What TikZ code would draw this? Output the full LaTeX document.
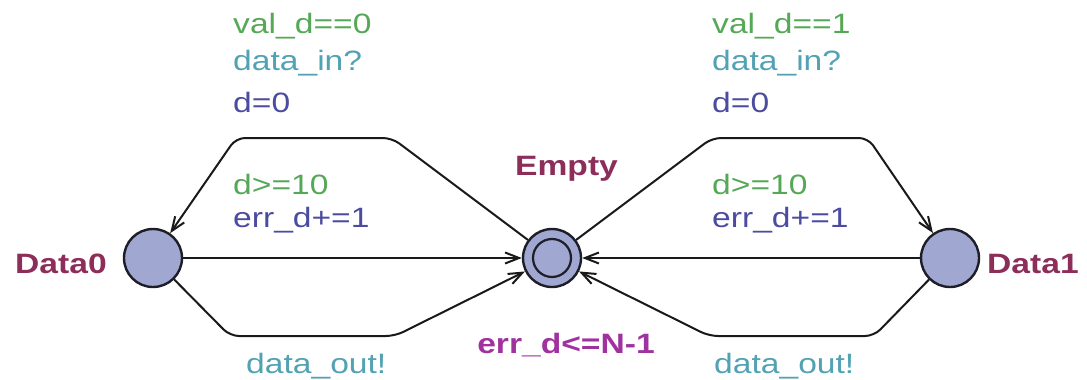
\documentclass[tikz,border=0pt]{standalone}
\usepackage{fontspec}
\setmainfont{Liberation Sans}[FakeStretch=1.2]
\usetikzlibrary{arrows.meta}
\definecolor{guardgreen}{HTML}{55A855}
\definecolor{syncteal}{HTML}{52A2B4}
\definecolor{updblue}{HTML}{4B4BA0}
\definecolor{locred}{HTML}{8C2D5A}
\definecolor{invpurple}{HTML}{A032A0}
\definecolor{locfill}{HTML}{A0A8D2}
\definecolor{locline}{HTML}{1E1E28}

\begin{document}
\begin{tikzpicture}[
    x=1pt, y=-1pt,
    >={Straight Barb[length=14pt,width=11pt]},
    loc/.style={circle, draw=locline, fill=locfill, line width=2.4pt,
                minimum size=58pt, inner sep=0pt},
    initloc/.style={loc, path picture={\draw[locline, line width=2.2pt]
                (path picture bounding box.center) circle (19pt);}},
    namelbl/.style={font=\bfseries\fontsize{28}{33}\selectfont, color=locred,
                    inner sep=0pt, anchor=base west},
    invlbl/.style={font=\bfseries\fontsize{28}{33}\selectfont, color=invpurple,
                   inner sep=0pt, anchor=base},
    lbl/.style={font=\fontsize{28}{33}\selectfont, inner sep=0pt, anchor=base west},
    guard/.style={lbl, color=guardgreen},
    sync/.style={lbl, color=syncteal},
    upd/.style={lbl, color=updblue},
    trans/.style={->, line width=2pt, color=black!90, rounded corners=9pt},
]
\useasboundingbox (0,0) rectangle (1087,380);

% ---- Locations ----
\node[loc]     (data0) at (153,258) {};
\node[initloc] (empty) at (552,258) {};
\node[loc]     (data1) at (950,258) {};

\node[namelbl] (n_data0) at (15,273)  {Data0};
\node[namelbl] (n_empty) at (515,175) {Empty};
\node[namelbl] (n_data1) at (987,273) {Data1};
\node[invlbl]  (i_empty) at (566,353) {err\_d<=N-1};

% ---- Transitions ----
\draw[trans] (empty) -- (392,138) -- (236,138) -- (data0);
\draw[trans] (empty) -- (712,138) -- (868,138) -- (data1);
\draw[trans] (data0) -- (empty);
\draw[trans] (data1) -- (empty);
\draw[trans] (data0) -- (230,336) -- (395,336) -- (empty);
\draw[trans] (data1) -- (874,336) -- (709,336) -- (empty);

% ---- Labels: upper edges ----
\node[guard] (g_in0) at (233,33)  {val\_d==0};
\node[sync]  (s_in0) at (233,70)  {data\_in?};
\node[upd]   (u_in0) at (233,112) {d=0};
\node[guard] (g_in1) at (712,33)  {val\_d==1};
\node[sync]  (s_in1) at (712,70)  {data\_in?};
\node[upd]   (u_in1) at (712,112) {d=0};

% ---- Labels: straight edges ----
\node[guard] (g_err0) at (233,194) {d>=10};
\node[upd]   (u_err0) at (233,227) {err\_d+=1};
\node[guard] (g_err1) at (712,194) {d>=10};
\node[upd]   (u_err1) at (712,227) {err\_d+=1};

% ---- Labels: lower edges ----
\node[sync] (s_out0) at (246,373) {data\_out!};
\node[sync] (s_out1) at (714,373) {data\_out!};
\end{tikzpicture}
\end{document}
